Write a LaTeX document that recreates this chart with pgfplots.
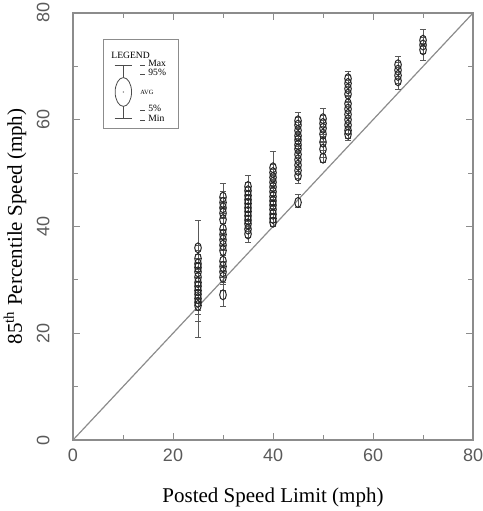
\documentclass[border=0pt]{standalone}
\usepackage{pgfplots}
\pgfplotsset{compat=1.18}
\usepackage{fontspec}
\setmainfont{Liberation Serif}
\newfontfamily\sansf{Liberation Sans}
\definecolor{axgray}{HTML}{8C8C8C}
\definecolor{tickgray}{HTML}{5A5A5A}
\definecolor{markgray}{HTML}{262626}
\pgfdeclareplotmark{vellipse}{%
  \pgfpathellipse{\pgfpointorigin}{\pgfqpoint{0.66\pgfplotmarksize}{0pt}}{\pgfqpoint{0pt}{\pgfplotmarksize}}%
  \pgfusepathqstroke}
% x avg plus minus  (error bars from 5%/min to 95%/max)
\pgfplotstableread{
x y ep em
25 36.0 5.1 2.0
25 34.0 2.5 2.5
25 33.0 2.5 2.5
25 32.3 2.5 2.5
25 31.5 2.5 2.5
25 30.5 2.5 2.5
25 29.5 2.5 2.5
25 28.8 2.5 2.5
25 28.0 2.5 2.5
25 27.3 2.5 3.0
25 26.5 2.5 3.0
25 25.8 2.5 3.5
25 25.2 2.5 5.9
30 45.5 2.6 2.0
30 44.5 2.0 2.0
30 43.5 2.0 2.0
30 42.5 2.0 2.0
30 41.3 2.0 2.0
30 39.5 2.0 2.0
30 38.5 2.0 2.0
30 37.5 2.0 2.0
30 36.5 2.0 2.0
30 35.5 2.0 2.0
30 33.5 2.0 2.0
30 32.5 2.0 2.0
30 31.5 2.0 2.0
30 30.5 2.0 2.5
30 27.2 2.0 2.2
35 47.5 2.1 1.5
35 46.7 1.5 1.5
35 45.8 1.5 1.5
35 45.0 1.5 1.5
35 44.3 1.5 1.5
35 43.5 1.5 1.5
35 42.8 1.5 1.5
35 42.0 1.5 1.5
35 41.2 1.5 1.5
35 40.5 1.5 1.5
35 39.5 1.5 1.5
35 38.6 1.5 1.5
40 51.0 3.0 1.5
40 50.1 1.5 1.5
40 49.2 1.5 1.5
40 48.3 1.5 1.5
40 47.4 1.5 1.5
40 46.5 1.5 1.5
40 45.6 1.5 1.5
40 44.8 1.5 1.5
40 44.0 1.5 1.5
40 43.2 1.5 1.5
40 42.3 1.5 1.5
40 41.5 1.5 1.5
40 40.8 1.5 0.8
45 59.8 1.5 1.5
45 59.0 1.5 1.5
45 58.0 1.5 1.5
45 57.0 1.5 1.5
45 56.2 1.5 1.5
45 55.3 1.5 1.5
45 54.5 1.5 1.5
45 53.5 1.5 1.5
45 52.5 1.5 1.5
45 51.5 1.5 1.5
45 50.5 1.5 1.5
45 49.5 1.5 1.5
45 44.5 1.5 1.0
50 60.2 2.0 1.5
50 59.3 1.5 1.5
50 58.4 1.5 1.5
50 57.3 1.5 1.5
50 55.8 1.5 1.5
50 54.5 1.5 1.5
50 52.8 1.5 0.8
55 67.7 1.3 1.5
55 66.8 1.5 1.5
55 65.8 1.5 1.5
55 64.8 1.5 1.5
55 63.0 1.5 1.5
55 62.0 1.5 1.5
55 61.0 1.5 1.5
55 60.0 1.5 1.5
55 59.0 1.5 1.5
55 58.0 1.5 1.5
55 57.3 1.5 1.1
65 70.3 1.6 1.5
65 69.3 1.5 1.5
65 68.3 1.5 1.5
65 67.3 1.5 1.7
70 74.9 2.1 1.2
70 74.0 1.5 1.5
70 73.1 1.2 1.9
}\sites
\begin{document}
\begin{tikzpicture}
\begin{axis}[
  name=ax,
  scale only axis,
  width=200pt, height=213.5pt,
  xmin=0, xmax=80, ymin=0, ymax=80,
  xtick={0,20,40,60,80}, ytick={0,20,40,60,80},
  minor xtick={10,30,50,70}, minor ytick={10,30,50,70},
  tick align=inside,
  major tick length=3.5pt, minor tick length=2.5pt,
  axis line style={axgray, line width=0.6pt},
  every tick/.style={axgray, line width=0.5pt},
  /pgf/number format/assume math mode=true,
  ticklabel style={font=\sansf\fontsize{9}{9}\selectfont, text=tickgray},
  xticklabel style={anchor=north, inner ysep=4.5pt},
  yticklabel style={rotate=90, anchor=south, inner ysep=11.5pt},
  every axis x label/.style={at={(axis description cs:0.5,-0.1335)}, anchor=center},
  every axis y label/.style={at={(axis description cs:-0.145,0.5)}, rotate=90, anchor=center},
  label style={font=\fontsize{10.5}{12}\selectfont},
  xlabel={Posted Speed Limit (mph)},
  ylabel={85\textsuperscript{th} Percentile Speed (mph)},
  clip=false,
]
\addplot[axgray, line width=0.6pt] coordinates {(0,0) (80,80)};
\addplot[only marks, mark=vellipse, mark size=2.5pt,
  mark options={draw=markgray, line width=0.5pt},
  error bars/.cd, y dir=both, y explicit,
  error bar style={black!65, line width=0.4pt},
  error mark options={black!65, mark size=1.6pt, line width=0.4pt, rotate=90}]
  table[x=x, y=y, y error plus=ep, y error minus=em] {\sites};
% legend
\draw[axgray, line width=0.5pt] (axis cs:6,74.94) rectangle (axis cs:21,58.45);
\node[anchor=west, inner sep=0pt, font=\fontsize{4.8}{5}\selectfont] at (axis cs:7.6,72.1) {LEGEND};
\draw[black!70, line width=0.4pt] (axis cs:10.07,70.26) -- (axis cs:10.07,60.27);
\draw[black!70, line width=0.4pt] (axis cs:8.3,70.26) -- (axis cs:11.8,70.26);
\draw[black!70, line width=0.4pt] (axis cs:8.3,60.27) -- (axis cs:11.8,60.27);
\draw[black!70, line width=0.4pt, fill=white] (axis cs:10.07,65.2) ellipse [x radius=4.1pt, y radius=7.2pt];
\fill[black!60] (axis cs:10.07,65.2) circle (0.35pt);
\draw[black!70, line width=0.4pt] (axis cs:13.4,70.2) -- (axis cs:14.4,70.2);
\draw[black!70, line width=0.4pt] (axis cs:13.4,68.5) -- (axis cs:14.4,68.5);
\draw[black!70, line width=0.4pt] (axis cs:13.4,61.8) -- (axis cs:14.4,61.8);
\draw[black!70, line width=0.4pt] (axis cs:13.4,59.9) -- (axis cs:14.4,59.9);
\node[anchor=west, inner sep=0pt, font=\fontsize{4.8}{5}\selectfont] at (axis cs:15,70.6) {Max};
\node[anchor=west, inner sep=0pt, font=\fontsize{4.8}{5}\selectfont] at (axis cs:15,68.9) {95\%};
\node[anchor=west, inner sep=0pt, font=\fontsize{4.8}{5}\selectfont] at (axis cs:15,62.2) {5\%};
\node[anchor=west, inner sep=0pt, font=\fontsize{4.8}{5}\selectfont] at (axis cs:15,60.3) {Min};
\node[anchor=west, inner sep=0pt, font=\fontsize{3.2}{4}\selectfont] at (axis cs:13.4,65.1) {AVG};
\end{axis}
\pgfresetboundingbox
\path ([xshift=-36.5pt,yshift=-35.5pt]ax.south west) rectangle ([xshift=4.5pt,yshift=6.5pt]ax.north east);
\end{tikzpicture}
\end{document}
